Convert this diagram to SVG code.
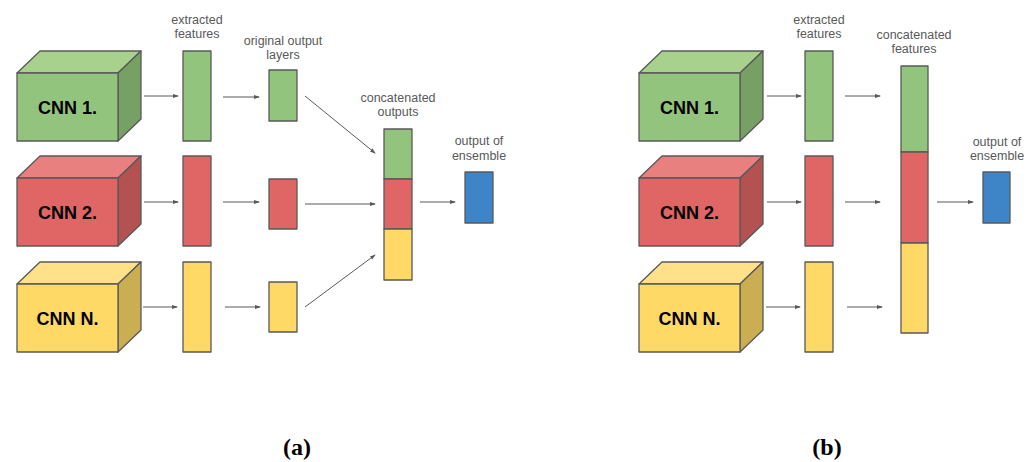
<svg xmlns="http://www.w3.org/2000/svg" width="1031" height="462" viewBox="0 0 1031 462">
  <style>
    .lbl { font-family: "Liberation Sans", Arial, sans-serif; font-size: 12.5px; fill: #595959; text-anchor: middle; }
    .cnn { font-family: "Liberation Sans", Arial, sans-serif; font-size: 18px; font-weight: bold; fill: #000; text-anchor: middle; }
    .cap { font-family: "Liberation Serif", "Times New Roman", serif; font-size: 24px; font-weight: bold; fill: #000; text-anchor: middle; }
    .edge { stroke: #595959; stroke-width: 1; fill: none; marker-end: url(#arrow); }
    .box { stroke: #595959; stroke-width: 1.3; stroke-linejoin: round; }
    .g { fill: #93c47d; } .gt { fill: #a9d18e; } .gs { fill: #76a064; }
    .r { fill: #e06666; } .rt { fill: #e88080; } .rs { fill: #b45252; }
    .y { fill: #ffd966; } .yt { fill: #ffe18a; } .ys { fill: #ccae52; }
    .b { fill: #3d85c6; }
  </style>
  <defs>
    <marker id="arrow" markerWidth="6" markerHeight="6" refX="5" refY="3" orient="auto" markerUnits="userSpaceOnUse">
      <path d="M0,1 L6,3 L0,5 Z" fill="#595959"/>
    </marker>
  </defs>
  <rect width="1031" height="462" fill="#fff"/>

  <!-- Panel (a): cubes have a 101x68 front face and a (23,-22) depth offset -->
  <g id="a-cnn1" transform="translate(17,51)">
    <polygon class="box gt" points="0,22 23,0 124,0 101,22"/>
    <polygon class="box gs" points="101,22 124,0 124,68 101,90"/>
    <rect class="box g" x="0" y="22" width="101" height="68"/>
    <text class="cnn" x="50.5" y="62.5">CNN 1.</text>
  </g>
  <g id="a-cnn2" transform="translate(17,156)">
    <polygon class="box rt" points="0,22 23,0 124,0 101,22"/>
    <polygon class="box rs" points="101,22 124,0 124,68 101,90"/>
    <rect class="box r" x="0" y="22" width="101" height="68"/>
    <text class="cnn" x="50.5" y="62.5">CNN 2.</text>
  </g>
  <g id="a-cnnN" transform="translate(17,262)">
    <polygon class="box yt" points="0,22 23,0 124,0 101,22"/>
    <polygon class="box ys" points="101,22 124,0 124,68 101,90"/>
    <rect class="box y" x="0" y="22" width="101" height="68"/>
    <text class="cnn" x="50.5" y="62.5">CNN N.</text>
  </g>

  <g id="a-features">
    <text class="lbl" x="197" y="24">extracted</text>
    <text class="lbl" x="197" y="38">features</text>
    <rect class="box g" x="183" y="51" width="28" height="90"/>
    <rect class="box r" x="183" y="156" width="28" height="90"/>
    <rect class="box y" x="183" y="262" width="28" height="90"/>
  </g>

  <g id="a-outputs">
    <text class="lbl" x="283" y="45">original output</text>
    <text class="lbl" x="283" y="59">layers</text>
    <rect class="box g" x="269" y="70" width="28" height="51"/>
    <rect class="box r" x="269" y="179" width="28" height="50"/>
    <rect class="box y" x="269" y="282" width="28" height="50"/>
  </g>

  <g id="a-concat">
    <text class="lbl" x="398" y="102">concatenated</text>
    <text class="lbl" x="398" y="116">outputs</text>
    <rect class="box g" x="384" y="129" width="28" height="50"/>
    <rect class="box r" x="384" y="179" width="28" height="50"/>
    <rect class="box y" x="384" y="229" width="28" height="51"/>
  </g>

  <g id="a-ensemble">
    <text class="lbl" x="479" y="145">output of</text>
    <text class="lbl" x="479" y="160">ensemble</text>
    <rect class="box b" x="465" y="172" width="28" height="51"/>
  </g>

  <g id="a-connectors">
    <line class="edge" x1="144" y1="96" x2="178" y2="96"/>
    <line class="edge" x1="144" y1="202" x2="178" y2="202"/>
    <line class="edge" x1="143" y1="307" x2="177" y2="307"/>
    <line class="edge" x1="223" y1="97" x2="259" y2="97"/>
    <line class="edge" x1="223" y1="202" x2="259" y2="202"/>
    <line class="edge" x1="225" y1="307" x2="260" y2="307"/>
    <line class="edge" x1="305" y1="96" x2="375" y2="153"/>
    <line class="edge" x1="305" y1="204" x2="375" y2="204"/>
    <line class="edge" x1="305" y1="307" x2="375" y2="255"/>
    <line class="edge" x1="420" y1="202" x2="455" y2="202"/>
  </g>

  <!-- Panel (b) -->
  <g id="b-cnn1" transform="translate(639,51)">
    <polygon class="box gt" points="0,22 23,0 124,0 101,22"/>
    <polygon class="box gs" points="101,22 124,0 124,68 101,90"/>
    <rect class="box g" x="0" y="22" width="101" height="68"/>
    <text class="cnn" x="50.5" y="62.5">CNN 1.</text>
  </g>
  <g id="b-cnn2" transform="translate(639,156)">
    <polygon class="box rt" points="0,22 23,0 124,0 101,22"/>
    <polygon class="box rs" points="101,22 124,0 124,68 101,90"/>
    <rect class="box r" x="0" y="22" width="101" height="68"/>
    <text class="cnn" x="50.5" y="62.5">CNN 2.</text>
  </g>
  <g id="b-cnnN" transform="translate(639,262)">
    <polygon class="box yt" points="0,22 23,0 124,0 101,22"/>
    <polygon class="box ys" points="101,22 124,0 124,68 101,90"/>
    <rect class="box y" x="0" y="22" width="101" height="68"/>
    <text class="cnn" x="50.5" y="62.5">CNN N.</text>
  </g>

  <g id="b-features">
    <text class="lbl" x="819" y="24">extracted</text>
    <text class="lbl" x="819" y="38">features</text>
    <rect class="box g" x="805" y="51" width="28" height="90"/>
    <rect class="box r" x="805" y="156" width="28" height="90"/>
    <rect class="box y" x="805" y="262" width="28" height="90"/>
  </g>

  <g id="b-concat">
    <text class="lbl" x="914" y="39">concatenated</text>
    <text class="lbl" x="914" y="53">features</text>
    <rect class="box g" x="901" y="66" width="27" height="86"/>
    <rect class="box r" x="901" y="152" width="27" height="91"/>
    <rect class="box y" x="901" y="243" width="27" height="90"/>
  </g>

  <g id="b-ensemble">
    <text class="lbl" x="997" y="146">output of</text>
    <text class="lbl" x="997" y="160">ensemble</text>
    <rect class="box b" x="983" y="172" width="27" height="51"/>
  </g>

  <g id="b-connectors">
    <line class="edge" x1="767" y1="96" x2="801" y2="96"/>
    <line class="edge" x1="767" y1="202" x2="801" y2="202"/>
    <line class="edge" x1="766" y1="307" x2="800" y2="307"/>
    <line class="edge" x1="845" y1="96" x2="880" y2="96"/>
    <line class="edge" x1="845" y1="202" x2="880" y2="202"/>
    <line class="edge" x1="847" y1="307" x2="882" y2="307"/>
    <line class="edge" x1="937" y1="202" x2="973" y2="202"/>
  </g>

  <text id="cap-a" class="cap" x="297" y="455">(a)</text>
  <text id="cap-b" class="cap" x="827" y="455">(b)</text>
</svg>
